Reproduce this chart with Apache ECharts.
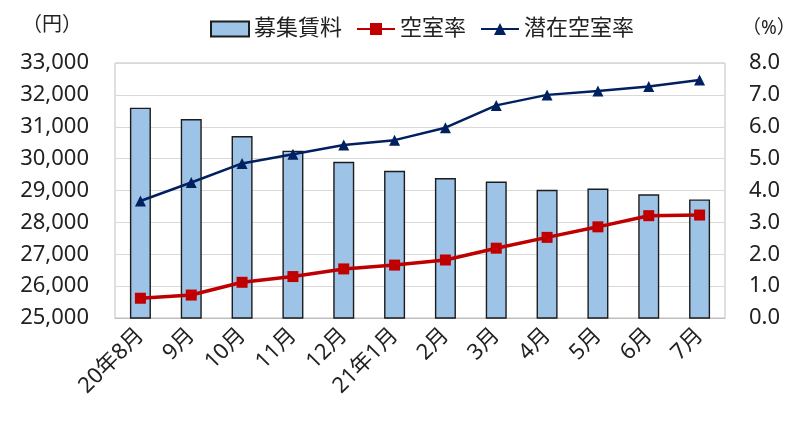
<!DOCTYPE html>
<html>
<head>
<meta charset="utf-8">
<script src="https://cdn.jsdelivr.net/npm/echarts@6/dist/echarts.min.js"></script>
<style>
  html, body { margin: 0; padding: 0; background: #fff; }
  #chart { width: 800px; height: 431px; }
</style>
</head>
<body>
<div id="chart"></div>
<script>
    // 月
    var months = ['20年8月', '9月', '10月', '11月', '12月', '21年1月', '2月', '3月', '4月', '5月', '6月', '7月'];
    // 募集賃料（円）
    var rent = [31600, 31240, 30710, 30250, 29900, 29620, 29390, 29280, 29020, 29060, 28880, 28720];
    // 空室率（%）
    var vacancy = [0.62, 0.72, 1.12, 1.30, 1.54, 1.66, 1.82, 2.19, 2.53, 2.86, 3.21, 3.23];
    // 潜在空室率（%）
    var potential = [3.67, 4.25, 4.85, 5.14, 5.43, 5.58, 5.97, 6.67, 7.00, 7.12, 7.26, 7.47];

    var font = 'Noto Sans, Noto Sans CJK JP, sans-serif';
    var myChart = echarts.init(document.getElementById('chart'));
    var option = {
        animation: false,
        textStyle: { fontFamily: font, color: '#222' },
        legend: {
            top: 13,
            left: 205,
            itemGap: 14,
            itemWidth: 38,
            itemHeight: 15,
            textStyle: { fontSize: 22, color: '#222', fontFamily: font },
            data: [
                { name: '募集賃料', icon: 'rect' },
                { name: '空室率' },
                { name: '潜在空室率' }
            ]
        },
        graphic: [
            { type: 'text', left: 22, top: 15, style: { text: '（円）', fontSize: 20, fill: '#222', fontFamily: font } },
            { type: 'text', left: 742, top: 19, style: { text: '（%）', fontSize: 19, fill: '#222', fontFamily: font } }
        ],
        grid: {
            left: 115,
            right: 75,
            top: 63,
            bottom: 113,
            show: true,
            borderColor: '#bfbfbf',
            borderWidth: 1
        },
        xAxis: {
            type: 'category',
            data: months,
            axisTick: { show: false },
            axisLine: { lineStyle: { color: '#bfbfbf' } },
            axisLabel: { rotate: 45, fontSize: 22, color: '#222', margin: 14, interval: 0 }
        },
        yAxis: [
            {
                type: 'value',
                min: 25000,
                max: 33000,
                interval: 1000,
                axisLabel: {
                    fontSize: 22, color: '#222', margin: 26,
                    formatter: function (v) { return v.toLocaleString('en-US'); }
                },
                splitLine: { lineStyle: { color: '#d9d9d9' } },
                axisLine: { show: false },
                axisTick: { show: false }
            },
            {
                type: 'value',
                min: 0,
                max: 8,
                interval: 1,
                axisLabel: {
                    fontSize: 22, color: '#222', margin: 24,
                    formatter: function (v) { return v.toFixed(1); }
                },
                splitLine: { show: false },
                axisLine: { show: false },
                axisTick: { show: false }
            }
        ],
        series: [
            {
                name: '募集賃料',
                type: 'bar',
                barWidth: 21,
                data: rent,
                itemStyle: { color: '#9dc3e6', borderColor: '#1c1c1c', borderWidth: 1.4 }
            },
            {
                name: '空室率',
                type: 'line',
                yAxisIndex: 1,
                data: vacancy,
                symbol: 'rect',
                symbolSize: 11,
                lineStyle: { color: '#c00000', width: 3.5 },
                itemStyle: { color: '#c00000' }
            },
            {
                name: '潜在空室率',
                type: 'line',
                yAxisIndex: 1,
                data: potential,
                symbol: 'triangle',
                symbolSize: 11,
                lineStyle: { color: '#002060', width: 2.5 },
                itemStyle: { color: '#002060' }
            }
        ]
    };
    myChart.setOption(option);
</script>
</body>
</html>
